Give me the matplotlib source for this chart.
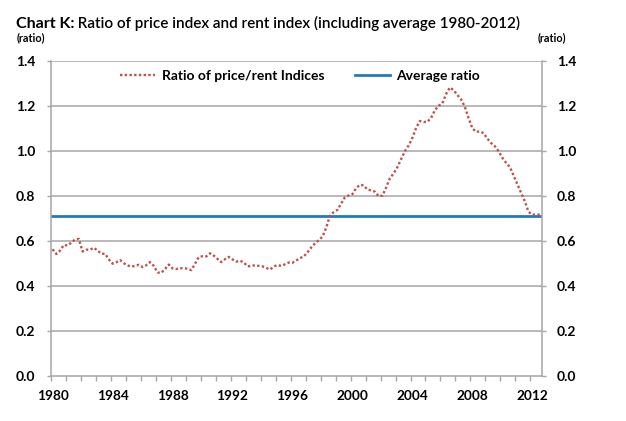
import numpy as np
import matplotlib
matplotlib.use('Agg')
import matplotlib.pyplot as plt

plt.rcParams['font.family'] = ['Lato', 'DejaVu Sans']

# quarterly ratio of price index to rent index, 1980Q1 - 2012Q3
ratio = [0.562, 0.541, 0.556, 0.581, 0.579, 0.591, 0.606, 0.608,
         0.552, 0.560, 0.560, 0.569, 0.556, 0.542, 0.542, 0.517,
         0.498, 0.504, 0.514, 0.500, 0.490, 0.485, 0.488, 0.493,
         0.483, 0.491, 0.505, 0.488, 0.459, 0.457, 0.474, 0.494,
         0.477, 0.474, 0.478, 0.477, 0.476, 0.469, 0.497, 0.527,
         0.531, 0.530, 0.544, 0.534, 0.519, 0.505, 0.518, 0.528,
         0.517, 0.507, 0.511, 0.504, 0.486, 0.488, 0.491, 0.488,
         0.486, 0.479, 0.472, 0.485, 0.492, 0.488, 0.495, 0.503,
         0.502, 0.512, 0.523, 0.529, 0.548, 0.570, 0.588, 0.602,
         0.618, 0.657, 0.711, 0.727, 0.737, 0.765, 0.793, 0.801,
         0.807, 0.834, 0.848, 0.846, 0.827, 0.824, 0.818, 0.798,
         0.800, 0.836, 0.878, 0.899, 0.927, 0.963, 0.998, 1.023,
         1.057, 1.101, 1.132, 1.128, 1.128, 1.146, 1.180, 1.200,
         1.210, 1.252, 1.281, 1.269, 1.248, 1.228, 1.195, 1.145,
         1.100, 1.084, 1.086, 1.078, 1.054, 1.034, 1.020, 0.998,
         0.969, 0.946, 0.928, 0.890, 0.853, 0.814, 0.775, 0.728,
         0.716, 0.716, 0.716]
avg_ratio = 0.712
label_years = [1980, 1984, 1988, 1992, 1996, 2000, 2004, 2008, 2012]
yticks = [0.0, 0.2, 0.4, 0.6, 0.8, 1.0, 1.2, 1.4]

n = len(ratio)
x = np.arange(n) + 0.5   # category centres

fig = plt.figure(figsize=(6.26, 4.21), dpi=100)
ax = fig.add_axes([0.081, 0.1076, 0.7843, 0.7482])

grid_col = '#a6a6a6'
for yv in yticks[1:]:
    ax.axhline(yv, color=grid_col, lw=1.1, zorder=1)

ax.plot(x, ratio, color='#c0504d', lw=1.7, ls=(0, (1, 1)),
        label='Ratio of price/rent Indices', zorder=3)
ax.plot([0, n], [avg_ratio, avg_ratio], color='#2379c2', lw=2.0,
        label='Average ratio', zorder=2)

ax.set_xlim(0, n)
ax.set_ylim(0, 1.4)

for s in ['left', 'right', 'bottom']:
    ax.spines[s].set_color(grid_col)
    ax.spines[s].set_linewidth(1.1)
ax.spines['top'].set_visible(False)

# x axis: tick marks every year, labels every 4 years
ax.set_xticks(np.arange(0, n, 4), minor=True)
ax.set_xticks([(yr - 1980) * 4 + 0.5 for yr in label_years])
ax.set_xticklabels([str(yr) for yr in label_years], fontweight='bold', fontsize=9.8)
ax.tick_params(axis='x', which='major', length=0, pad=10)
ax.tick_params(axis='x', which='minor', length=3.6, width=1, color=grid_col)

ax.set_yticks(yticks)
ax.set_yticklabels(['%.1f' % v for v in yticks], fontweight='bold', fontsize=10)
ax.tick_params(axis='y', length=3, width=1, color=grid_col, pad=8,
               left=True, right=True, labelleft=True, labelright=True)

leg = ax.legend(loc='center', bbox_to_anchor=(0.508, 0.951), ncol=2, frameon=False,
                prop={'weight': 'bold', 'size': 10}, handlelength=2.5,
                columnspacing=2.2, handletextpad=0.5)

t1 = fig.text(0.025, 0.943, 'Chart K:', fontsize=11.5, fontweight='bold', va='center')
ax.annotate(' Ratio of price index and rent index (including average 1980-2012)',
            xy=(1, 0), xycoords=t1, va='bottom', ha='left',
            fontsize=11, fontweight='semibold')
fig.text(0.026, 0.911, '(ratio)', fontsize=7.8, fontweight='bold', va='center')
fig.text(0.859, 0.911, '(ratio)', fontsize=7.8, fontweight='bold', va='center')

fig.savefig('out.png', dpi=100)
